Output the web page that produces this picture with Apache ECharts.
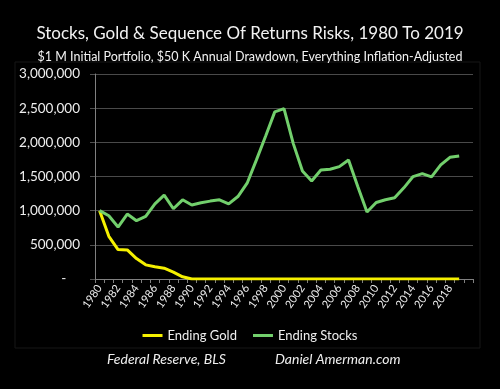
<!DOCTYPE html>
<html><head><meta charset="utf-8">
<script src="https://cdn.jsdelivr.net/npm/echarts@6/dist/echarts.min.js"></script>
<style>html,body{margin:0;padding:0;background:#000;}#c{width:500px;height:389px;}</style>
</head><body><div id="c"></div>
<script>
const years = ['1980','1981','1982','1983','1984','1985','1986','1987','1988','1989','1990','1991','1992','1993','1994','1995','1996','1997','1998','1999','2000','2001','2002','2003','2004','2005','2006','2007','2008','2009','2010','2011','2012','2013','2014','2015','2016','2017','2018','2019',''];
const endingGold = [1000000,624000,430000,425000,299000,207000,178000,158000,100000,32000,0,0,0,0,0,0,0,0,0,0,0,0,0,0,0,0,0,0,0,0,0,0,0,0,0,0,0,0,0,0];
const endingStocks = [1000000,925000,760000,950000,853000,915000,1100000,1227000,1028000,1159000,1082000,1115000,1140000,1159000,1100000,1207000,1402000,1740000,2090000,2446000,2494000,1985000,1581000,1435000,1596000,1606000,1644000,1742000,1353000,980000,1120000,1159000,1188000,1334000,1499000,1542000,1494000,1669000,1781000,1800000];
const yTicks = {min:0, max:3000000, interval:500000};

const chart = echarts.init(document.getElementById('c'));
const fam = 'Lato';
chart.setOption({
  backgroundColor:'#000',
  animation:false,
  title:[
    {text:'Stocks, Gold & Sequence Of Returns Risks, 1980 To 2019', left:'center', top:20,
     textStyle:{color:'#f2f2f2', fontFamily:fam, fontSize:17, fontWeight:'normal'}},
    {text:'$1 M Initial Portfolio, $50 K Annual Drawdown, Everything Inflation-Adjusted', left:'center', top:45,
     textStyle:{color:'#f2f2f2', fontFamily:fam, fontSize:12.5, fontWeight:'normal'}}
  ],
  graphic:[
    {type:'rect', shape:{x:15, y:62, width:465, height:286}, style:{fill:'none', stroke:'#161616', lineWidth:1}, silent:true},
    {type:'text', left:107, top:352, style:{text:'Federal Reserve, BLS', fill:'#eeeeee', font:'italic 14px '+fam}},
    {type:'text', left:275, top:352, style:{text:'Daniel Amerman.com', fill:'#eeeeee', font:'italic 14px '+fam}}
  ],
  legend:{
    data:['Ending Gold','Ending Stocks'], top:324, left:'center', icon:'rect', itemWidth:20, itemHeight:3, itemGap:16,
    textStyle:{color:'#eeeeee', fontFamily:fam, fontSize:13}
  },
  grid:{left:95, right:27, top:74, bottom:110, containLabel:false},
  xAxis:{
    type:'category', data:years, boundaryGap:true,
    axisLine:{lineStyle:{color:'#808080', width:1}},
    axisTick:{show:true, length:4, interval:0, lineStyle:{color:'#808080'}},
    axisLabel:{interval:1, rotate:55, color:'#eeeeee', fontFamily:fam, fontSize:11, margin:7}
  },
  yAxis:{
    type:'value', min:yTicks.min, max:yTicks.max, interval:yTicks.interval,
    axisLine:{show:true, lineStyle:{color:'#808080'}},
    axisTick:{show:true, length:5, lineStyle:{color:'#505050'}},
    splitLine:{lineStyle:{color:'#4a4a4a', width:1}},
    axisLabel:{color:'#eeeeee', fontFamily:fam, fontSize:13.5, margin:15,
      formatter:v=> v===0 ? '-    ' : v.toLocaleString('en-US')}
  },
  series:[
    {name:'Ending Gold', type:'line', data:endingGold, showSymbol:false, symbol:'none',
     lineStyle:{color:'#f5f000', width:3}, itemStyle:{color:'#f5f000'}},
    {name:'Ending Stocks', type:'line', data:endingStocks, showSymbol:false, symbol:'none',
     lineStyle:{color:'#72cf6c', width:3}, itemStyle:{color:'#72cf6c'}}
  ]
});
</script></body></html>
